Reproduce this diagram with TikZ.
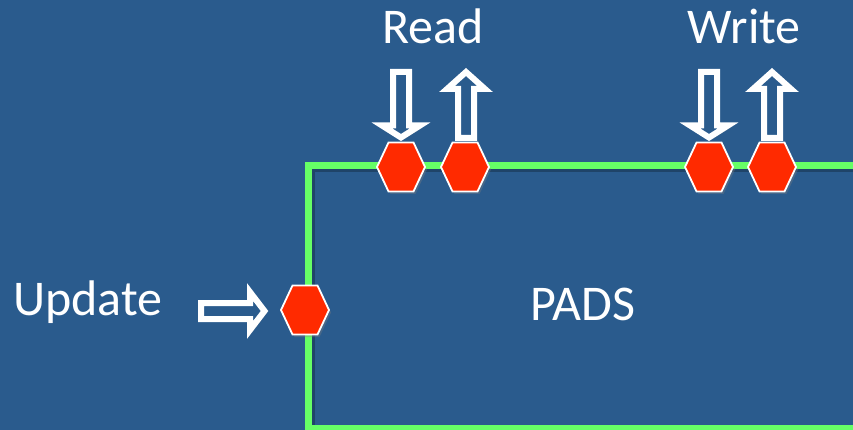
\documentclass[tikz,border=0pt]{standalone}
\usepackage{fontspec}
\setmainfont{Carlito}
\usetikzlibrary{shadows}
\definecolor{bgblue}{HTML}{2A5B8D}
\definecolor{hexred}{HTML}{FF2A00}
\definecolor{padgreen}{HTML}{66FF66}
\tikzset{
  hexfill/.style={fill=hexred, draw=white, line width=1.8pt, line join=miter,
    drop shadow={opacity=0.35, shadow xshift=2pt, shadow yshift=-2.5pt}},
  hollow/.style={draw=white, fill=bgblue, line width=6pt, line join=miter, miter limit=10,
    drop shadow={opacity=0.35, shadow xshift=2pt, shadow yshift=-2.5pt}},
  label/.style={text=white, inner sep=0pt, font=\fontsize{50}{60}\selectfont},
  border/.style={draw=padgreen, line width=7pt},
  bordershade/.style={draw=black, opacity=0.25, line width=7pt},
  % flat-topped hexagonal port, centred on the pic origin
  pics/port/.style={code={
    \path[hexfill] (-24,0) -- (-12.5,-24.5) -- (12.5,-24.5) -- (24,0)
                   -- (12.5,24.5) -- (-12.5,24.5) -- cycle;
    \coordinate (-c) at (0,0);}},
  % hollow block arrow, tip at the pic origin, pointing along +x
  % #1 = total length, #2 = head length
  pics/blockarrow/.style 2 args={code={
    \path[hollow] (0,0) -- (-#2,-19) -- (-#2,-8) -- (-#1,-8) -- (-#1,8)
                  -- (-#2,8) -- (-#2,19) -- cycle;}}
}
\begin{document}
\begin{tikzpicture}[x=1pt, y=-1pt]
  \useasboundingbox (0,0) rectangle (853,430);
  \clip (0,0) rectangle (853,430);
  \fill[bgblue] (0,0) rectangle (853,430);

  % the PADS region, with a soft shade under its outline
  \draw[bordershade] (311,168.5) rectangle (900,431);
  \draw[border] (308.5,166) rectangle (900,428.5);

  % ports on the border
  \pic (rin)  at (401,167) {port};
  \pic (rout) at (465,167) {port};
  \pic (win)  at (709,167) {port};
  \pic (wout) at (772,167) {port};
  \pic (upd)  at (305,310) {port};

  % arrows into and out of the ports
  \pic[rotate=-90] at (401,137.5) {blockarrow={65.5}{12}};
  \pic[rotate=90]  at (466,72)    {blockarrow={66}{17}};
  \pic[rotate=-90] at (709,137.5) {blockarrow={65.5}{12}};
  \pic[rotate=90]  at (772,72)    {blockarrow={66}{17}};
  \pic at (264.5,311) {blockarrow={63.5}{14.5}};

  % labels
  \node[label, anchor=base] (read)  at (433,44)  {Read};
  \node[label, anchor=base] (write) at (744,44)  {Write};
  \node[label, anchor=base west] (update) at (13,315) {Update};
  \node[label, anchor=base] (pads)  at (583,320) {PADS};
\end{tikzpicture}
\end{document}
